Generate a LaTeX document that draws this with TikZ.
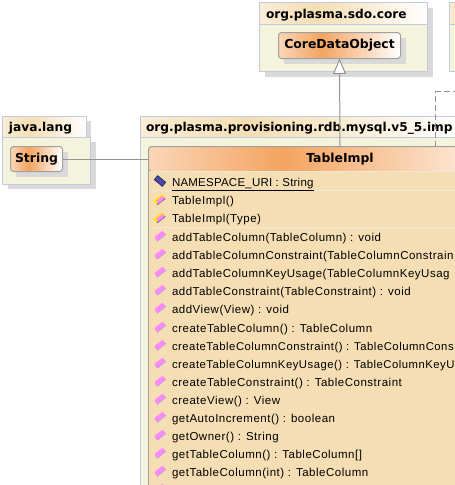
\documentclass[tikz,border=0pt]{standalone}
\usepackage{fontspec}
\setmainfont{Liberation Sans}
\newfontfamily\dlgbold{DejaVu Sans Bold}
\newfontfamily\memberfont[LetterSpace=4.5]{Liberation Sans}
\newfontfamily\capsfont[LetterSpace=2]{Liberation Sans}
\usetikzlibrary{arrows.meta}
\definecolor{pkgfill}{HTML}{F4F4DC}
\definecolor{pkgline}{HTML}{C2CAE0}
\definecolor{shadowc}{HTML}{D9D9D9}
\definecolor{clsline}{HTML}{A0A0A0}
\definecolor{wheatc}{HTML}{F5DEB3}
\definecolor{sepc}{HTML}{EFE8D8}
\definecolor{orangec}{HTML}{F4A460}
\definecolor{methpink}{HTML}{FF88FF}
\definecolor{methedge}{HTML}{C8A0E0}
\definecolor{attrblue}{HTML}{4A4AA8}
\definecolor{attrdark}{HTML}{2A2A70}
\pgfdeclarehorizontalshading{classfade}{100bp}{color(0bp)=(orangec!45!white); color(25bp)=(orangec!45!white); color(42.5bp)=(orangec); color(75bp)=(white); color(100bp)=(white)}
\pgfdeclarehorizontalshading{tabfade}{100bp}{color(0bp)=(wheatc!55!white); color(25bp)=(wheatc!55!white); color(42bp)=(wheatc); color(75bp)=(white); color(100bp)=(white)}
\tikzset{
  x=1pt,y=-1pt,
  pkgbody/.style={draw=pkgline,line width=1pt,fill=pkgfill,anchor=north west,inner sep=0pt,outer sep=0pt},
  pkgtab/.style={draw=pkgline,line width=1pt,shading=tabfade,anchor=north west,inner sep=0pt,outer sep=0pt},
  pkglabel/.style={anchor=base west,inner sep=0pt,outer sep=0pt,font=\dlgbold\fontsize{12.2}{14}\selectfont,text=black},
  cls/.style={draw=clsline,line width=1pt,rounded corners=3pt,shading=classfade,anchor=north west,inner sep=0pt,outer sep=0pt,font=\dlgbold\fontsize{12.4}{14}\selectfont,text=black},
  shadowbox/.style={fill=shadowc,draw=none},
  conn/.style={draw=gray!85,line width=1pt},
  member/.style={anchor=base west,inner sep=0pt,outer sep=0pt,font=\memberfont\fontsize{11.5}{13}\selectfont,text=black},
  capsmember/.style={member,font=\capsfont\fontsize{11.5}{13}\selectfont},
  sepline/.style={draw=sepc,line width=1pt},
  methicon/.pic={\fill[fill=methedge,rotate=38] (-5.5,-1.2) rectangle (5.5,2.8);
    \fill[fill=methpink,rotate=38] (-5,-2.6) rectangle (5,1.4);},
  ctoricon/.pic={\fill[fill=yellow!90!orange,rotate=38] (-5.6,-3.4) rectangle (5.2,1.2);
    \fill[fill=methedge!70!black,rotate=38] (-5.2,1.2) rectangle (5.2,2.6);
    \fill[fill=methpink,rotate=38] (-3.4,-1.7) rectangle (4.6,1.6);},
  attricon/.pic={\fill[fill=attrdark,rotate=-40] (-5.6,-3) rectangle (5.6,3);
    \fill[fill=attrblue,rotate=-40] (-4.6,-2) rectangle (4.6,2);},
}
\newcommand{\tightrow}[1]{{\fontsize{11.3}{13}\selectfont #1}}
\begin{document}
\begin{tikzpicture}
\useasboundingbox (0,0) rectangle (455,485);
\clip (0,0) rectangle (455,485);
% java.lang package
\fill[shadowbox] (86,121) rectangle (91,138);
\fill[shadowbox] (7.5,142) rectangle (95.5,189);
\node[pkgbody,minimum width=88pt,minimum height=46.5pt] (javabody) at (2.5,137.5) {};
\node[pkgtab,minimum width=84pt,minimum height=21pt] (javatab) at (2.5,116.5) {};
\node[pkglabel] (javalabel) at (9,131.5) {java.lang};
\fill[shadowbox] (15.5,151.5) rectangle (67.5,176.5);
\node[cls,minimum width=52pt,minimum height=25pt] (stringcls) at (10.5,146.5) {String};
% core package
\fill[shadowbox] (427,7.5) rectangle (432.5,76.5);
\fill[shadowbox] (264.5,71) rectangle (432.5,76.5);
\node[pkgbody,minimum width=168pt,minimum height=47pt] (corebody) at (259.5,24.5) {};
\node[pkgtab,minimum width=168pt,minimum height=22pt] (coretab) at (259.5,2.5) {};
\node[pkglabel] (corelabel) at (266,18.5) {org.plasma.sdo.core};
\fill[shadowbox] (283.5,37.5) rectangle (405.5,63.5);
\node[cls,minimum width=122pt,minimum height=26pt] (coredata) at (278.5,32.5) {CoreDataObject};
% neighbour package
\node[pkgbody,minimum width=30pt,minimum height=47pt] (nextbody) at (449.5,24.5) {};
\node[pkgtab,minimum width=30pt,minimum height=22pt] (nexttab) at (449.5,2.5) {};
% main package
\node[pkgbody,minimum width=400pt,minimum height=360pt] (mainbody) at (140.5,137.5) {};
\node[pkgtab,minimum width=322pt,minimum height=21pt] (maintab) at (140.5,116.5) {};
\node[pkglabel] (mainlabel) at (146,131.5) {org.plasma.provisioning.rdb.mysql.v5\_5.imp};
% class TableImpl
\node[cls,minimum width=383pt,minimum height=25pt] (tableimpl) at (148.5,146.5) {TableImpl};
\fill[wheatc] (148.5,171) rectangle (531.5,490);
\draw[clsline,line width=1pt] (148.5,168) -- (148.5,490);
\draw[sepline] (149,171.5) -- (455,171.5);
\draw[sepline] (149,190.5) -- (455,190.5);
\draw[sepline] (149,227.5) -- (455,227.5);
% members
\pic at (160,181) {attricon};
\node[capsmember] (m0) at (172,186) {\underline{NAMESPACE\_URI : String}};
\pic at (160,200) {ctoricon};
\node[member] (m1) at (172,204) {TableImpl()};
\pic at (160,218) {ctoricon};
\node[member] (m2) at (172,222) {TableImpl(Type)};
\foreach \yy/\txt [count=\i from 3] in {
 237/{addTableColumn(TableColumn) : void},
 255/{addTableColumnConstraint(TableColumnConstrain},
 273/{addTableColumnKeyUsage(TableColumnKeyUsag},
 291/{addTableConstraint(TableConstraint) : void},
 309/{addView(View) : void},
 328/{createTableColumn() : TableColumn},
 346/{\tightrow{createTableColumnConstraint() : TableColumnCons}},
 364/{\tightrow{createTableColumnKeyUsage() : TableColumnKeyU}},
 382/{createTableConstraint() : TableConstraint},
 400/{createView() : View},
 418/{getAutoIncrement() : boolean},
 436/{getOwner() : String},
 454/{getTableColumn() : TableColumn[]},
 472/{getTableColumn(int) : TableColumn}}{
  \pic at (160,\yy-1) {methicon};
  \node[member] (m\i) at (172,\yy+4) {\txt};
}
\pic at (160,489) {methicon};
% connectors
\draw[conn] (stringcls.east) -- (stringcls.east -| tableimpl.west);
\draw[conn,-{Triangle[open,fill=white,length=15.5pt,width=13pt]}] (tableimpl.north) -- (coredata.south);
\coordinate (dashcorner) at (435.5,91.5);
\coordinate (dashend) at (456,91.5);
\draw[conn,dash pattern=on 6pt off 3pt] (tableimpl.north -| dashcorner) -- (dashcorner) -- (dashend);
\end{tikzpicture}
\end{document}
